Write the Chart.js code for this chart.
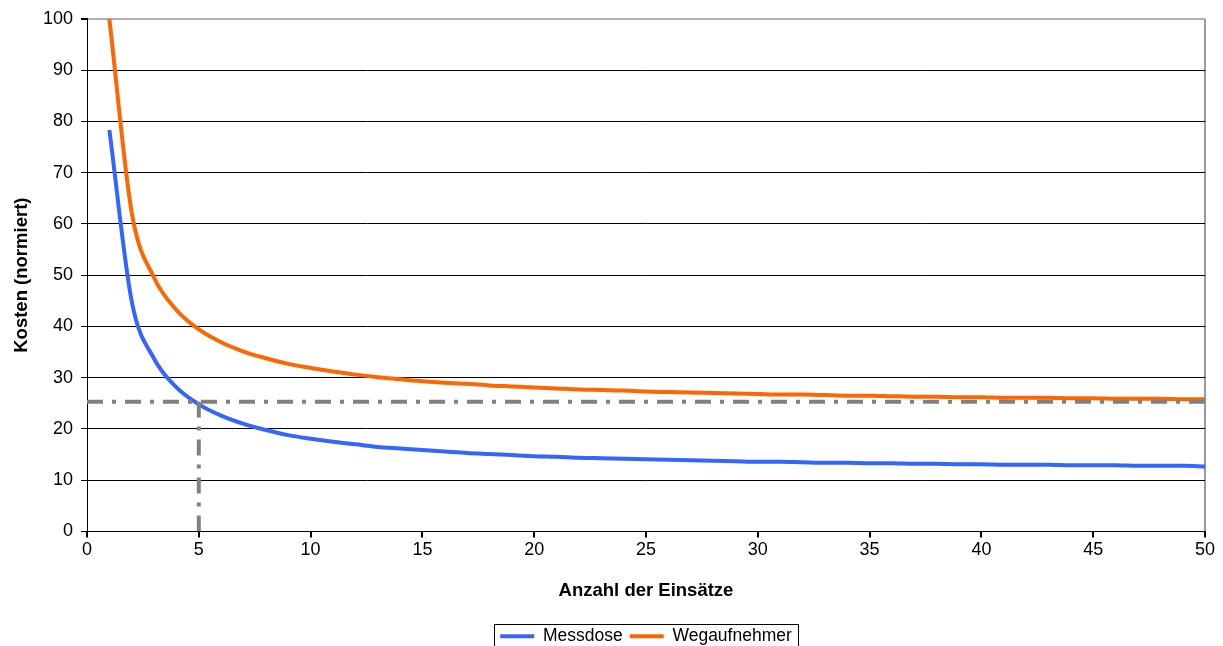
<!DOCTYPE html>
<html>
<head>
<meta charset="utf-8">
<script src="https://cdn.jsdelivr.net/npm/chart.js@4.4.1/dist/chart.umd.min.js"></script>
<style>
  html, body { margin: 0; padding: 0; background: #fff; }
  #wrap { width: 1223px; height: 646px; }
</style>
</head>
<body>
<div id="wrap"><canvas id="myChart"></canvas></div>
<script>
// Anzahl der Einsätze (x)
const einsaetze = [
  1, 2, 3, 4, 5, 6, 7, 8, 9, 10,
  11, 12, 13, 14, 15, 16, 17, 18, 19, 20,
  21, 22, 23, 24, 25, 26, 27, 28, 29, 30,
  31, 32, 33, 34, 35, 36, 37, 38, 39, 40,
  41, 42, 43, 44, 45, 46, 47, 48, 49, 50
];
// Kosten (normiert)
const messdose = [
  78.3, 44.9, 33.7, 28.1, 24.8, 22.6, 21.0, 19.8, 18.8, 18.1,
  17.5, 17.0, 16.5, 16.2, 15.9, 15.6, 15.3, 15.1, 14.9, 14.7,
  14.6, 14.4, 14.3, 14.2, 14.1, 14.0, 13.9, 13.8, 13.7, 13.6,
  13.6, 13.5, 13.4, 13.4, 13.3, 13.3, 13.2, 13.2, 13.1, 13.1,
  13.0, 13.0, 13.0, 12.9, 12.9, 12.9, 12.8, 12.8, 12.8, 12.7
];
const wegaufnehmer = [
  100, 62.2, 49.5, 43.2, 39.4, 36.9, 35.1, 33.8, 32.7, 31.9,
  31.2, 30.6, 30.1, 29.7, 29.3, 29.0, 28.8, 28.5, 28.3, 28.1,
  27.9, 27.7, 27.6, 27.5, 27.3, 27.2, 27.1, 27.0, 26.9, 26.8,
  26.7, 26.7, 26.6, 26.5, 26.5, 26.4, 26.3, 26.3, 26.2, 26.2,
  26.1, 26.1, 26.1, 26.0, 26.0, 25.9, 25.9, 25.9, 25.8, 25.8
];
// Hilfslinien (grau, Strich-Punkt)
const hilfsX = [5, 5];
const hilfsY = [0, 25.3];
const grenzX = [0, 50];
const grenzY = [25.3, 25.3];

const FONT = 'Liberation Sans, Arial, sans-serif';

const toPoints = ( xs, ys ) => xs.map( ( x, i ) => ( { x: x, y: ys[i] } ) );

// Legende unter der Zeichenfläche zentrieren, mit Rahmen
const legendBox = {
  id: 'legendBox',
  afterLayout( chart ) {
    const lg = chart.legend;
    const dx = ( chart.chartArea.left + chart.chartArea.right ) / 2 - ( lg.left + lg.right ) / 2;
    const dy = 14;
    lg.left += dx; lg.right += dx;
    lg.top += dy; lg.bottom += dy;
  },
  afterDraw( chart ) {
    const boxes = chart.legend.legendHitBoxes;
    if ( !boxes || !boxes.length ) return;
    const left = Math.min( ...boxes.map( b => b.left ) ) - 6;
    const right = Math.max( ...boxes.map( b => b.left + b.width ) ) + 6;
    const top = Math.min( ...boxes.map( b => b.top ) ) - 4;
    const c = chart.ctx;
    c.save();
    c.strokeStyle = '#000';
    c.lineWidth = 1;
    c.strokeRect( Math.round( left ) + 0.5, Math.round( top ) + 0.5, Math.round( right - left ), 40 );
    c.restore();
  }
};

const ctx = document.getElementById( 'myChart' ).getContext( '2d' );

new Chart( ctx, {
  type: 'line',
  data: {
    datasets: [
      {
        label: 'Messdose',
        data: toPoints( einsaetze, messdose ),
        borderColor: '#3366ff',
        backgroundColor: '#3366ff',
        borderWidth: 4,
        pointRadius: 0,
        cubicInterpolationMode: 'monotone',
        order: 1
      },
      {
        label: 'Wegaufnehmer',
        data: toPoints( einsaetze, wegaufnehmer ),
        borderColor: '#ff6600',
        backgroundColor: '#ff6600',
        borderWidth: 4,
        pointRadius: 0,
        cubicInterpolationMode: 'monotone',
        order: 2
      },
      {
        label: 'h1',
        data: toPoints( grenzX, grenzY ),
        borderColor: '#808080',
        borderWidth: 4,
        borderDash: [ 16, 9, 4, 9 ],
        pointRadius: 0,
        order: 0
      },
      {
        label: 'h2',
        data: toPoints( hilfsX, hilfsY ),
        borderColor: '#808080',
        borderWidth: 4,
        borderDash: [ 16, 9, 4, 9 ],
        pointRadius: 0,
        order: 0
      }
    ]
  },
  options: {
    responsive: true,
    maintainAspectRatio: false,
    animation: false,
    layout: { padding: { top: 18, right: 18, left: 0, bottom: 5 } },
    plugins: {
      tooltip: { enabled: false },
      legend: {
        position: 'bottom',
        labels: {
          color: '#000',
          font: { family: FONT, size: 17.5 },
          boxWidth: 34,
          boxHeight: 4,
          padding: 7,
          generateLabels: ( chart ) => Chart.defaults.plugins.legend.labels.generateLabels( chart )
            .filter( l => l.datasetIndex < 2 )
            .map( l => Object.assign( l, { lineWidth: 0 } ) )
        }
      }
    },
    scales: {
      x: {
        type: 'linear',
        min: 0,
        max: 50,
        afterFit: ( s ) => { s.height = 75; },
        ticks: {
          stepSize: 5,
          color: '#000',
          padding: 2,
          font: { family: FONT, size: 18 }
        },
        grid: {
          drawOnChartArea: true,
          color: ( c ) => ( c.tick && c.tick.value === 50 ) ? '#999' : 'rgba(0,0,0,0)',
          lineWidth: 2,
          tickColor: '#000',
          tickLength: 6
        },
        border: { color: '#000', width: 1 },
        title: {
          display: true,
          text: 'Anzahl der Einsätze',
          color: '#000',
          font: { family: FONT, size: 18.5, weight: 'bold' }
        }
      },
      y: {
        min: 0,
        max: 100,
        afterFit: ( s ) => { s.width = 87; },
        ticks: {
          stepSize: 10,
          color: '#000',
          padding: 8,
          font: { family: FONT, size: 18 }
        },
        grid: {
          color: ( c ) => ( c.tick && c.tick.value === 100 ) ? '#b0b0b0' : '#000',
          lineWidth: ( c ) => ( c.tick && c.tick.value === 100 ) ? 2 : 1,
          tickColor: '#000',
          tickLength: 6
        },
        border: { color: '#000', width: 1 },
        title: {
          display: true,
          text: 'Kosten (normiert)',
          color: '#000',
          padding: { top: 11, bottom: 4 },
          font: { family: FONT, size: 18.5, weight: 'bold' }
        }
      }
    }
  },
  plugins: [ legendBox ]
});
</script>
</body>
</html>
